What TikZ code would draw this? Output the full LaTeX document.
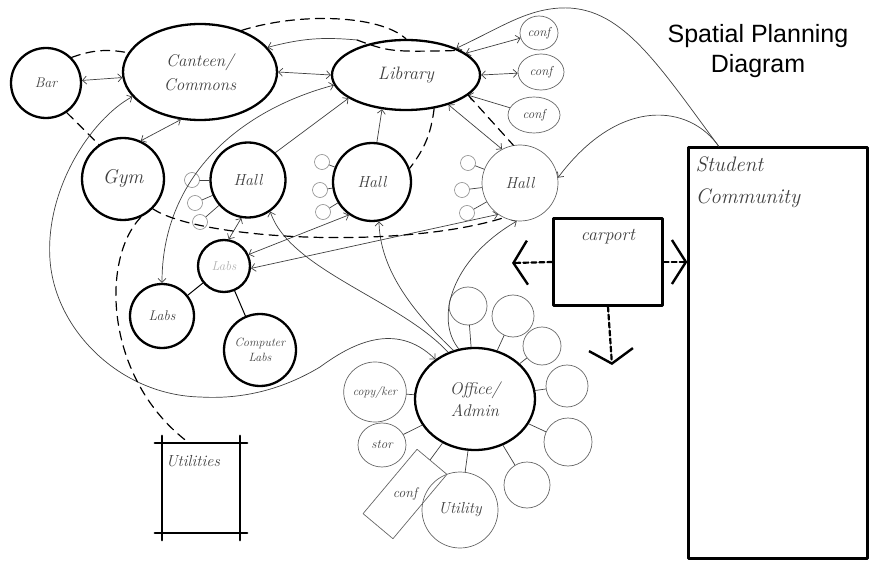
\documentclass[tikz,border=0pt]{standalone}
\usepackage{fontspec}
\newfontfamily\titlefont{Liberation Sans}
\usetikzlibrary{shapes.geometric,arrows.meta}
\begin{document}
\begin{tikzpicture}[x=1pt,y=-1pt,line join=round,line cap=round,>={Straight Barb[length=4pt,width=8pt]}]
\tikzset{every node/.style={inner sep=0pt,text=black!75,font=\itshape\fontsize{16}{19}\selectfont},
  room/.style={circle,draw=black,line width=2.3pt},
  oval/.style={ellipse,draw=black,line width=2.3pt},
  faint/.style={circle,draw=black!60,line width=0.7pt},
  faintoval/.style={ellipse,draw=black!60,line width=0.7pt},
  pod/.style={circle,draw=black!45,line width=0.6pt,minimum size=15pt},
  box/.style={draw=black,line width=2.3pt},
  link/.style={draw=black!75,line width=0.7pt},
  dashlink/.style={draw=black,line width=1.2pt,dash pattern=on 9pt off 6pt},
  carlink/.style={draw=black,line width=2.2pt,dash pattern=on 5pt off 3pt,-{Straight Barb[length=14pt,width=44pt,line width=2.4pt]}}}
\useasboundingbox (0,0) rectangle (881,572);
\node[font=\titlefont\fontsize{25}{30}\selectfont,text=black,align=center] (title) at (758,51) {Spatial Planning\\Diagram};
\node[oval,minimum width=154pt,minimum height=96pt,align=center,font=\itshape\fontsize{17}{24}\selectfont] (cant) at (200,72) {Canteen/\\Commons};
\node[oval,minimum width=148pt,minimum height=70pt,font=\itshape\fontsize{18}{20}\selectfont] (lib) at (406,75) {Library};
\node[room,minimum size=70pt,font=\itshape\fontsize{14}{16}\selectfont] (bar) at (46,83) {Bar};
\node[room,minimum size=82pt,font=\itshape\fontsize{20}{22}\selectfont] (gym) at (123,179) {Gym};
\node[room,minimum size=75pt] (h1) at (248,180) {Hall};
\node[room,minimum size=78pt] (h2) at (372,182) {Hall};
\node[faint,minimum size=76pt] (h3) at (520,183) {Hall};
\node[faintoval,minimum width=38pt,minimum height=34pt,font=\itshape\fontsize{13}{15}\selectfont] (conf1) at (539,33) {conf};
\node[faintoval,minimum width=46pt,minimum height=36pt,font=\itshape\fontsize{13}{15}\selectfont] (conf2) at (541,72) {conf};
\node[faintoval,minimum width=52pt,minimum height=36pt,font=\itshape\fontsize{13}{15}\selectfont] (conf3) at (534,115) {conf};
\node[room,minimum size=52pt,text=black!30,font=\itshape\fontsize{13}{15}\selectfont] (ls) at (224,266) {Labs};
\node[room,minimum size=64pt,font=\itshape\fontsize{14}{16}\selectfont] (lb) at (162,316) {Labs};
\node[room,minimum size=72pt,align=center,font=\itshape\fontsize{12}{15}\selectfont] (cl) at (260,350) {Computer\\Labs};
\node[oval,minimum width=120pt,minimum height=102pt,align=center,font=\itshape\fontsize{17}{22}\selectfont] (off) at (475,399) {Office/\\Admin};
\node[faint,minimum size=76pt] (uty) at (460,510) {Utility};
\node[faintoval,minimum width=48pt,minimum height=44pt,font=\itshape\fontsize{13}{15}\selectfont] (stor) at (382,445) {stor};
\node[faintoval,minimum width=54pt,minimum height=60pt,font=\itshape\fontsize{12}{14}\selectfont] (copy) at (375,392) {copy/ker};
\node[rectangle,draw=black!60,line width=0.7pt,rotate=50,minimum width=84pt,minimum height=39pt] (conf4) at (405,494) {};
\node[font=\itshape\fontsize{14}{16}\selectfont] (conf4t) at (conf4.center) {conf};
\node[box,rectangle,minimum width=109pt,minimum height=87pt,label={[anchor=north,yshift=-12pt,font=\itshape\fontsize{18}{20}\selectfont]north:carport}] (cp) at (608,262) {};
\node[box,rectangle,minimum width=179pt,minimum height=411pt,label={[anchor=north west,xshift=8pt,yshift=-10pt,align=left,font=\itshape\fontsize{21}{32}\selectfont]north west:Student\\Community}] (sc) at (778,353) {};
\node[rectangle,minimum width=78pt,minimum height=90pt,label={[anchor=north west,xshift=4pt,yshift=-12pt]north west:Utilities}] (ut) at (201,488) {};
\draw[box,shorten <=-7pt,shorten >=-7pt] (ut.north west) -- (ut.north east);
\draw[box,shorten <=-7pt,shorten >=-7pt] (ut.north east) -- (ut.south east);
\draw[box,shorten <=-7pt,shorten >=-7pt] (ut.south east) -- (ut.south west);
\draw[box,shorten <=-7pt,shorten >=-7pt] (ut.south west) -- (ut.north west);
\foreach \h/\x/\y [count=\i] in {h1/192/180,h1/195/203,h1/200/222,h2/322/162,h2/320/190,h2/323/212,h3/468/163,h3/462/190,h3/467/213}
  {\node[pod] (k\i) at (\x,\y) {};
   \draw[link] (\h) -- (k\i);}
\foreach \x/\y/\d [count=\i] in {468/306/38,513/316/42,542/346/38,567/386/42,568/442/48,527/485/46}
  {\node[faint,minimum size=\d*1pt] (s\i) at (\x,\y) {};
   \draw[link] (off) -- (s\i);}
\foreach \s in {uty,stor,copy,conf4}
  \draw[link] (off) -- (\s);
\draw[link,<->] (bar) -- (cant);
\draw[dashlink] (bar.45) to[bend left=15] (cant.165);
\draw[dashlink] (bar.-55) -- (gym.125);
\draw[link,<->] (gym.65) -- (cant.-112);
\draw[link,<->] (cant.east) -- (lib.west);
\coordinate (ltop) at (357,40);
\draw[link,->] (ltop) to[bend right=10] (cant.20);
\draw[dashlink] (ltop) .. controls (390,52) .. (lib.24);
\draw[dashlink] (cant.45) .. controls (300,12) and (380,15) .. (lib.90);
\draw[link,<->] (lib.20) -- (conf1);
\draw[link,<->] (lib.east) -- (conf2);
\draw[link,->] (conf3) -- (lib.-18);
\draw[link,->] (sc.106) .. controls (655,60) and (620,5) .. (560,8) .. controls (525,10) and (500,28) .. (lib.28);
\draw[link,->] (sc.106) .. controls (690,105) and (620,95) .. (h3.8);
\draw[link,<->] (h3.118) -- (lib.-35);
\draw[dashlink] (lib.-18) -- (h3.100);
\draw[dashlink] (lib.-50) to[bend left=15] (h2.20);
\draw[link,->] (h2.83) -- (lib.-125);
\draw[link,->] (h1.45) -- (lib.-158);
\draw[link,<->] (lib.-172) to[out=195,in=90] (lb.north);
\draw[link,<->] (cant.-160) .. controls (90,120) and (45,190) .. (50,260) .. controls (55,330) and (120,395) .. (200,397) .. controls (250,400) and (290,385) .. (320,367) .. controls (350,345) and (395,320) .. (off.135);
\draw[link,->] (off.120) .. controls (400,300) and (290,270) .. (h1.-55);
\draw[link,->] (off.114) .. controls (400,300) and (380,260) .. (h2.-80);
\draw[link,->] (off.108) .. controls (435,320) and (450,260) .. (h3.-95);
\draw[link,<->] (h1.-100) -- (ls.80);
\draw[link,<->] (ls.25) -- (h2.-125);
\draw[link,<->] (ls.-5) -- (h3.-125);
\draw[draw=black,line width=1pt] (ls) -- (lb);
\draw[draw=black,line width=1pt] (ls) -- (cl);
\draw[dashlink] (gym.-45) .. controls (200,240) and (400,250) .. (h3.-115);
\draw[dashlink] (gym.-65) .. controls (100,260) and (105,380) .. (ut.105);
\coordinate (cpl) at (512,263);
\coordinate (cpd) at (612,365);
\draw[carlink] (cp.west) -- (cpl);
\draw[carlink] (cp.east) -- (cp.east -| sc.west);
\draw[carlink] (cp.south) -- (cpd);
\end{tikzpicture}
\end{document}
